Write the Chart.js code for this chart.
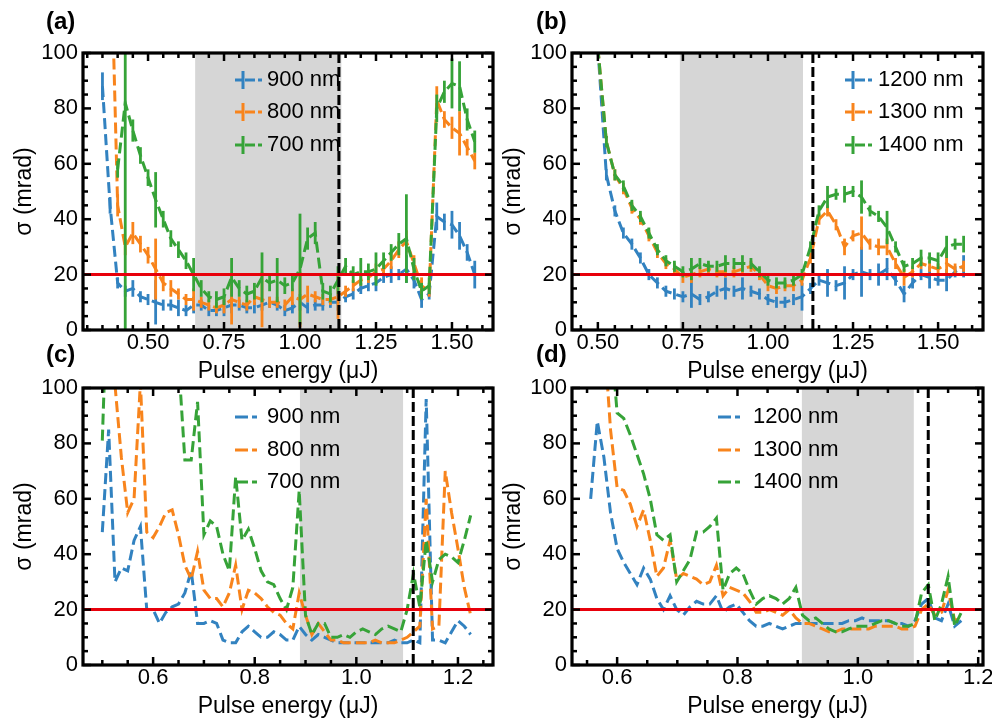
<!DOCTYPE html>
<html>
<head>
<meta charset="utf-8">
<script src="https://cdn.jsdelivr.net/npm/chart.js@4.4.0/dist/chart.umd.min.js"></script>
<style>
  html, body { margin:0; padding:0; background:#fff; width:992px; height:719px; overflow:hidden; }
  canvas { position:absolute; }
</style>
</head>
<body>
<canvas id="ca" width="500" height="385" style="left:0;top:0"></canvas>
<canvas id="cb" width="510" height="385" style="left:489px;top:0"></canvas>
<canvas id="cc" width="500" height="379" style="left:0;top:340px"></canvas>
<canvas id="cd" width="510" height="379" style="left:489px;top:340px"></canvas>
<script>
// ---- data ----
const Y_TICKS = [0, 20, 40, 60, 80, 100];
const X_TICKS_AB = [0.50, 0.75, 1.00, 1.25, 1.50];
const X_TICKS_CD = [0.6, 0.8, 1.0, 1.2];
const THRESHOLD = 20;

// (a) 900 / 800 / 700 nm, with error bars
const xA = [0.350,0.375,0.400,0.425,0.450,0.475,0.500,0.525,0.550,0.575,0.600,0.625,0.650,0.675,0.700,0.725,0.750,0.775,0.800,0.825,
            0.850,0.875,0.900,0.925,0.950,0.975,1.000,1.025,1.050,1.075,1.100,1.125,1.150,1.175,1.200,1.225,1.250,1.275,1.300,1.325,
            1.350,1.375,1.400,1.425,1.450,1.475,1.500,1.525,1.550,1.575];
const a900 = [88,45,17,14,15,12,11,10,9,9, 8,7,9,9,7,7,8,9,9,8, 8,9,10,9,7,8,10,8,9,9, 10,10,12,13,15,16,17,19,20,20, 22,18,11,13,41,39,38,34,28,20];
const a900Err = [5,3,2,2,3,2,2,8,2,2, 3,2,3,2,2,2,3,3,2,2, 2,2,2,2,2,2,3,2,2,2, 2,3,2,2,2,2,3,2,3,2, 5,3,3,2,5,3,5,5,3,5];
const a800 = [null,150,45,30,35,31,27,22,17,15, 13,11,11,10,9,8,9,11,10,9, 12,11,10,10,9,12,11,13,12,11, 11,12,14,16,18,19,21,22,25,29, 32,24,16,14,83,76,73,71,66,61];
const a800Err = [0,0,4,3,4,3,3,11,3,3, 2,2,4,2,2,2,3,9,2,2, 3,10,2,2,2,3,10,3,2,2, 2,8,2,2,2,2,3,2,3,3, 4,3,3,2,5,3,4,8,3,3];
const a700 = [null,null,58,82,72,63,55,47,40,33, 29,25,20,15,12,11,12,19,15,13, 14,19,17,18,16,17,22,33,35,14, 13,18,23,20,21,21,22,25,28,31, 33,22,14,16,80,86,89,88,76,68];
const a700Err = [0,0,3,95,4,3,3,10,3,3, 3,3,6,3,2,3,3,7,3,3, 3,9,3,8,3,3,20,4,4,3, 3,5,3,3,5,3,6,3,3,4, 16,4,3,3,5,4,9,9,4,4];

// (b) 1200 / 1300 / 1400 nm, with error bars
const xB = [0.500,0.525,0.550,0.575,0.600,0.625,0.650,0.675,0.700,0.725,0.750,0.775,0.800,0.825,0.850,0.875,0.900,0.925,0.950,0.975,
            1.000,1.025,1.050,1.075,1.100,1.125,1.150,1.175,1.200,1.225,1.250,1.275,1.300,1.325,1.350,1.375,1.400,1.425,1.450,1.475,
            1.500,1.525,1.550,1.575];
const b1200 = [102,56,43,35,31,26,20,17,14,13, 12,13,11,12,14,15,14,15,14,13, 11,10,10,11,12,15,18,17,16,17, 20,21,20,20,22,18,13,17,20,19, 18,18,21,23];
const b1200Err = [0,2,2,2,2,2,2,2,2,2, 2,5,2,2,2,4,2,4,2,2, 2,2,2,2,5,2,2,5,2,6, 2,9,2,4,4,2,3,2,2,4, 2,4,2,4];
const b1300 = [102,68,56,51,44,40,34,28,24,22, 19,20,21,22,21,21,21,22,23,20, 16,15,16,16,18,26,40,43,38,30, 34,35,31,30,30,24,19,21,24,23, 22,24,22,23];
const b1300Err = [0,2,2,2,2,2,2,2,2,2, 2,3,2,2,2,2,2,2,2,2, 2,2,2,2,2,2,2,2,2,3, 2,6,2,3,3,2,3,2,2,2, 2,4,2,2];
const b1400 = [102,68,56,52,45,41,35,29,25,23, 21,22,24,23,23,24,24,24,24,21, 18,17,17,18,20,30,43,48,49,49, 50,48,43,41,37,30,23,24,26,26, 25,30,31,31];
const b1400Err = [0,2,2,2,2,2,2,2,2,2, 2,4,2,2,2,3,2,3,2,2, 2,2,2,2,2,2,2,4,2,3, 2,6,2,2,6,2,2,2,3,2, 3,4,2,3];

// (c) 900 / 800 / 700 nm
const xC = [0.5000,0.5125,0.5250,0.5375,0.5500,0.5625,0.5750,0.5875,0.6000,0.6125,0.6250,0.6375,0.6500,0.6625,0.6750,0.6875,
            0.7000,0.7125,0.7250,0.7375,0.7500,0.7625,0.7750,0.7875,0.8000,0.8125,0.8250,0.8375,0.8500,0.8625,0.8750,0.8875,
            0.9000,0.9125,0.9250,0.9375,0.9500,0.9625,0.9750,0.9875,1.0000,1.0125,1.0250,1.0375,1.0500,1.0625,1.0750,1.0875,
            1.1000,1.1125,1.1250,1.1375,1.1500,1.1625,1.1750,1.1875,1.2000,1.2125,1.2250];
const c900 = [48,85,30,35,34,45,50,20,20,15, 19,21,22,26,34,15,15,16,15,9, 8,8,12,14,12,10,10,12,11,9, 9,14,11,9,11,10,9,8,8,8, 8,8,8,8,8,8,9,8,8,9, 8,96,9,9,8,12,16,14,11];
const c800 = [null,null,101,75,55,60,102,48,46,50, 55,56,47,36,31,41,27,24,24,21, 26,36,20,27,26,24,21,19,18,15, 13,26,18,11,15,12,9,9,8,8, 8,8,8,9,8,8,8,9,10,12, 14,60,13,14,70,55,42,28,18];
const c700 = [81,150,150,150,150,150,150,150,150,150, 150,150,110,74,74,95,47,52,50,40, 34,68,45,49,42,34,30,29,24,20, 28,63,18,11,15,15,10,10,11,10, 12,13,12,11,13,14,13,12,20,33, 21,45,30,38,40,39,37,45,54];

// (d) 1200 / 1300 / 1400 nm
const xD = [0.556,0.567,0.578,0.589,0.600,0.611,0.622,0.633,0.644,0.655,0.666,0.677,0.688,0.699,0.710,0.721,0.732,0.743,0.754,
            0.765,0.776,0.787,0.798,0.809,0.820,0.831,0.842,0.853,0.864,0.875,0.886,0.897,0.908,0.919,0.930,0.941,0.952,0.963,
            0.974,0.985,0.996,1.007,1.018,1.029,1.040,1.051,1.062,1.073,1.084,1.095,1.106,1.117,1.128,1.139,1.150,1.161,1.172];
const d1200 = [60,88,75,55,42,37,33,29,35,31, 24,20,25,20,18,21,23,22,22,25, 19,21,22,19,16,14,14,15,14,13, 14,15,15,15,15,15,15,15,15,16, 16,17,16,16,16,16,15,15,14,16, 22,24,17,16,22,14,16];
const d1300 = [null,null,120,85,64,63,58,50,56,45, 32,35,45,31,33,32,31,29,30,36, 25,28,27,26,23,19,19,20,19,18, 20,17,15,15,14,13,12,12,13,13, 13,13,13,14,14,14,14,13,13,14, 20,22,18,19,27,16,17];
const d1400 = [null,null,null,120,91,89,83,76,69,60, 47,45,47,30,34,38,48,48,50,53, 27,33,35,33,27,22,24,25,24,22, 24,28,18,16,17,15,13,12,12,13, 14,14,14,15,16,16,15,14,14,15, 26,29,16,22,32,14,19];

// shaded window and dashed marker per panel
const spanA = [0.655, 1.136], vlineA = 1.128;
const spanB = [0.741, 1.103], vlineB = 1.132;
const spanC = [0.889, 1.092], vlineC = 1.112;
const spanD = [0.907, 1.093], vlineD = 1.117;

// ---- styling ----
const COL = ['#3282c0', '#f8841c', '#36a338'];
const FAM = "'Liberation Sans', Arial, Helvetica, sans-serif";

const decor = {
  id: 'decor',
  beforeDatasetsDraw(chart, args, o) {
    const { ctx, chartArea: a, scales: { x } } = chart;
    const x0 = x.getPixelForValue(o.span[0]), x1 = x.getPixelForValue(o.span[1]);
    ctx.save();
    ctx.fillStyle = '#d6d6d6';
    ctx.fillRect(x0, a.top, x1 - x0, a.bottom - a.top);
    ctx.restore();
  },
  afterDatasetDraw(chart, args) {
    const ds = chart.data.datasets[args.index];
    if (!ds.err) return;
    const { ctx, chartArea: a, scales: { x, y } } = chart;
    ctx.save();
    ctx.beginPath(); ctx.rect(a.left, a.top, a.right - a.left, a.bottom - a.top); ctx.clip();
    ctx.strokeStyle = ds.borderColor; ctx.lineWidth = 2.8;
    ds.data.forEach((p, i) => {
      const e = ds.err[i];
      if (p.y == null || !e) return;
      const px = x.getPixelForValue(p.x);
      ctx.beginPath(); ctx.moveTo(px, y.getPixelForValue(p.y - e)); ctx.lineTo(px, y.getPixelForValue(p.y + e)); ctx.stroke();
    });
    ctx.restore();
  },
  afterDatasetsDraw(chart, args, o) {
    const { ctx, chartArea: a, scales: { x, y } } = chart;
    const seg = (x0, y0, x1, y1) => { ctx.beginPath(); ctx.moveTo(x0, y0); ctx.lineTo(x1, y1); ctx.stroke(); };
    ctx.save();
    // threshold
    ctx.strokeStyle = '#e8000b'; ctx.lineWidth = 3;
    const yt = y.getPixelForValue(THRESHOLD);
    seg(a.left, yt, a.right, yt);
    // dashed marker
    ctx.strokeStyle = '#000'; ctx.lineWidth = 3; ctx.setLineDash([10, 4]);
    const xv = x.getPixelForValue(o.vline);
    seg(xv, a.top, xv, a.bottom);
    ctx.setLineDash([]);
    // inward ticks, all sides
    ctx.lineWidth = 2.5;
    const kx = Math.round(o.majorStep * 20);
    for (let k = Math.ceil(x.min * 20); k <= Math.floor(x.max * 20); k++) {
      const px = x.getPixelForValue(k / 20), len = k % kx === 0 ? 8 : 5;
      seg(px, a.bottom, px, a.bottom - len); seg(px, a.top, px, a.top + len);
    }
    for (let k = 0; k <= 20; k++) {
      const py = y.getPixelForValue(k * 5), len = k % 4 === 0 ? 8 : 5;
      seg(a.left, py, a.left + len, py); seg(a.right, py, a.right - len, py);
    }
    ctx.lineWidth = 3.2;
    ctx.strokeRect(a.left, a.top, a.right - a.left, a.bottom - a.top);
    // legend
    ctx.font = `22px ${FAM}`; ctx.textBaseline = 'middle'; ctx.textAlign = 'left';
    chart.data.datasets.forEach((ds, i) => {
      const ly = o.legY[i], hx = o.legX[0];
      ctx.strokeStyle = ds.borderColor; ctx.lineWidth = 3;
      if (o.errLegend) {
        ctx.setLineDash([7, 3, 10, 3, 4, 100]); seg(hx, ly, hx + 27, ly);
        ctx.setLineDash([]); seg(hx + 8, ly - 9, hx + 8, ly + 9);
      } else {
        ctx.setLineDash([13, 4, 5, 100]); seg(hx, ly, hx + 23, ly);
        ctx.setLineDash([]);
      }
      ctx.fillStyle = '#000';
      ctx.fillText(ds.label, o.legX[1], ly);
    });
    // panel tag
    ctx.font = `bold 24px ${FAM}`;
    ctx.fillText(o.tag, o.tagPos[0], o.tagPos[1]);
    ctx.restore();
  }
};

const tickFont = { family: FAM, size: 22, lineHeight: 1 };
const titleFont = { family: FAM, size: 23, lineHeight: 1 };

const makePanel = (id, p) => new Chart(document.getElementById(id), {
  type: 'line',
  data: {
    datasets: p.series.map((s, k) => ({
      label: s.label,
      data: p.xs.map((x, i) => ({ x, y: s.y[i] })),
      err: s.err,
      borderColor: COL[k], backgroundColor: COL[k],
      borderWidth: 3, borderDash: [11, 5], pointRadius: 0, tension: 0, fill: false, spanGaps: false,
      order: 3 - k
    }))
  },
  options: {
    responsive: false, animation: false, events: [],
    layout: { padding: { top: p.padTop, right: p.padRight, left: 0, bottom: p.padBottom } },
    plugins: { legend: { display: false }, tooltip: { enabled: false }, decor: p.decor },
    scales: {
      x: {
        type: 'linear', min: p.min, max: p.max,
        afterBuildTicks: s => { s.ticks = p.xTicks.map(v => ({ value: v })); },
        afterFit: s => { s.height = p.xH; },
        grid: { display: false, drawTicks: false }, border: { display: false },
        ticks: { color: '#000', font: tickFont, padding: 2, autoSkip: false, maxRotation: 0, callback: v => v.toFixed(p.dec) },
        title: { display: true, text: 'Pulse energy (μJ)', color: '#000', font: titleFont, padding: { top: 0, bottom: p.titlePad } }
      },
      y: {
        type: 'linear', min: 0, max: 100,
        afterBuildTicks: s => { s.ticks = Y_TICKS.map(v => ({ value: v })); },
        afterFit: s => { s.width = 83; },
        grid: { display: false, drawTicks: false }, border: { display: false },
        ticks: { color: '#000', font: tickFont, padding: 5 },
        title: { display: true, text: 'σ (mrad)', color: '#000', font: titleFont, padding: { top: 13.5, bottom: 0 } }
      }
    }
  },
  plugins: [decor]
});

makePanel('ca', {
  xs: xA, min: 0.286, max: 1.635, xTicks: X_TICKS_AB, dec: 2,
  padTop: 53, padRight: 7, padBottom: 0, xH: 55, titlePad: 2,
  series: [ { label: '900 nm', y: a900, err: a900Err }, { label: '800 nm', y: a800, err: a800Err }, { label: '700 nm', y: a700, err: a700Err } ],
  decor: { span: spanA, vline: vlineA, majorStep: 0.25, legX: [235, 267], legY: [80, 112, 145], errLegend: true, tag: '(a)', tagPos: [46, 22] }
});
makePanel('cb', {
  xs: xB, min: 0.424, max: 1.632, xTicks: X_TICKS_AB, dec: 2,
  padTop: 53, padRight: 16, padBottom: 0, xH: 55, titlePad: 2,
  series: [ { label: '1200 nm', y: b1200, err: b1200Err }, { label: '1300 nm', y: b1300, err: b1300Err }, { label: '1400 nm', y: b1400, err: b1400Err } ],
  decor: { span: spanB, vline: vlineB, majorStep: 0.25, legX: [356, 389], legY: [80, 112, 145], errLegend: true, tag: '(b)', tagPos: [47, 22] }
});
makePanel('cc', {
  xs: xC, min: 0.462, max: 1.269, xTicks: X_TICKS_CD, dec: 1,
  padTop: 48, padRight: 7, padBottom: 0, xH: 54, titlePad: 0.5,
  series: [ { label: '900 nm', y: c900 }, { label: '800 nm', y: c800 }, { label: '700 nm', y: c700 } ],
  decor: { span: spanC, vline: vlineC, majorStep: 0.2, legX: [235, 267], legY: [77, 110, 142], errLegend: false, tag: '(c)', tagPos: [46, 15] }
});
makePanel('cd', {
  xs: xD, min: 0.525, max: 1.208, xTicks: X_TICKS_CD, dec: 1,
  padTop: 48, padRight: 16, padBottom: 0, xH: 54, titlePad: 0.5,
  series: [ { label: '1200 nm', y: d1200 }, { label: '1300 nm', y: d1300 }, { label: '1400 nm', y: d1400 } ],
  decor: { span: spanD, vline: vlineD, majorStep: 0.2, legX: [229, 264], legY: [77, 110, 142], errLegend: false, tag: '(d)', tagPos: [47, 15] }
});
</script>
</body>
</html>
